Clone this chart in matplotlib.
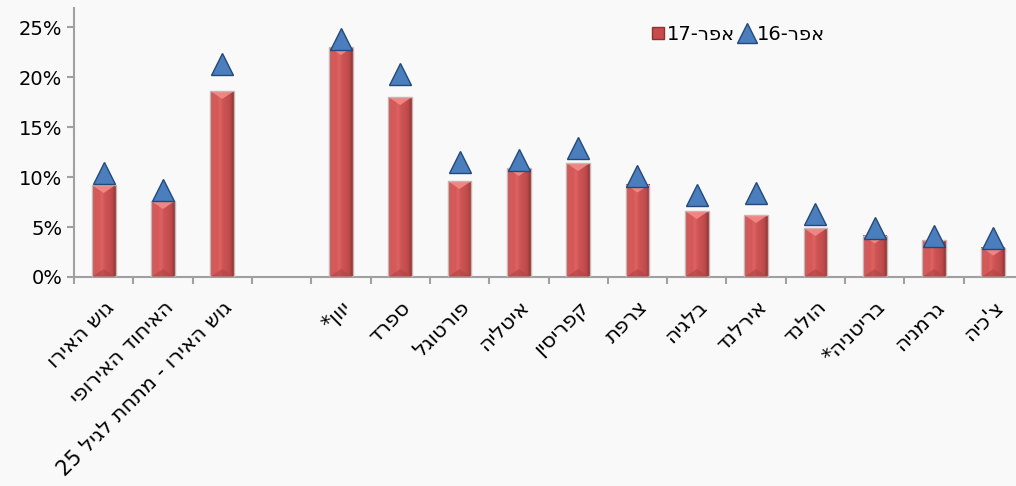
import re
import numpy as np
import matplotlib
matplotlib.use("Agg")
import matplotlib.pyplot as plt
from matplotlib.colors import LinearSegmentedColormap
from matplotlib.lines import Line2D

plt.rcParams['font.family'] = ['DejaVu Sans']

categories = ["גוש האירו", "האיחוד האירופי", "גוש האירו - מתחת לגיל 25", "",
              "יוון*", "ספרד", "פורטוגל", "איטליה", "קפריסין", "צרפת",
              "בלגיה", "אירלנד", "הולנד", "בריטניה*", "גרמניה", "צ'כיה"]
apr17 = [9.2, 7.6, 18.6, np.nan, 23.0, 18.0, 9.6, 10.9, 11.4, 9.25,
         6.6, 6.2, 4.9, 4.15, 3.7, 2.95]
apr16 = [10.4, 8.7, 21.3, np.nan, 23.8, 20.3, 11.5, 11.75, 12.9, 10.1,
         8.25, 8.4, 6.35, 4.95, 4.15, 3.95]
series_names = ["אפר-17", "אפר-16"]
yticks = [0, 5, 10, 15, 20, 25]


def visual(s):
    # matplotlib has no bidi support: flip Hebrew, keep digit runs readable
    r = s[::-1]
    return re.sub(r'\d+', lambda m: m.group(0)[::-1], r)


bg = '#F9F9F9'
fig = plt.figure(figsize=(10.16, 4.86), dpi=100, facecolor=bg)
ax = fig.add_axes([74 / 1016, 209 / 486, 949 / 1016, 269 / 486], facecolor=bg)

x = np.arange(len(categories))
w = 0.4

bar_cmap = LinearSegmentedColormap.from_list('bar', [
    (0.0, '#A84242'), (0.08, '#D35B5B'), (0.3, '#D65858'),
    (0.42, '#DD6464'), (0.55, '#CF5454'), (0.85, '#BE4A4A'), (1.0, '#8A3333')])
grad = np.linspace(0, 1, 64).reshape(1, -1)

for xi, v in zip(x, apr17):
    if np.isnan(v):
        continue
    ax.imshow(grad, cmap=bar_cmap, aspect='auto', zorder=2,
              extent=[xi - w / 2, xi + w / 2, 0, v], interpolation='bilinear')
    # bevels at the top and bottom of each bar
    d = min(0.8, v / 3)
    ax.fill([xi - w / 2, xi + w / 2, xi], [v, v, v - d],
            color='#F48A86', alpha=0.9, lw=0, zorder=3)
    ax.fill([xi - w / 2, xi + w / 2, xi], [0, 0, d],
            color='#B04343', alpha=0.6, lw=0, zorder=3)
    ax.bar(xi, v, width=w, facecolor='none', edgecolor='#C9B5B5',
           linewidth=1, zorder=4)

ax.plot(x, apr16, linestyle='none', marker='^', markersize=16.5,
        markerfacecolor='#4A7EBD', markeredgecolor='#23497A',
        markeredgewidth=1, zorder=5)

ax.set_xlim(-0.5, len(categories) - 0.5)
ax.set_ylim(0, 26.9)

ax.set_yticks(yticks)
ax.set_yticklabels([f"{t}%" for t in yticks], fontsize=14)
ax.set_xticks(np.arange(-0.5, len(categories)), labels=[])
ax.set_xticks(x, labels=[visual(c) for c in categories], minor=True)
ax.tick_params(axis='x', which='minor', length=0, pad=14.5)
ax.tick_params(axis='both', which='major', direction='out', length=5,
               width=1.5, color='#A0A0A0')
for lab in ax.get_xticklabels(minor=True):
    lab.set_rotation(45)
    lab.set_ha('right')
    lab.set_va('top')
    lab.set_rotation_mode('anchor')
    lab.set_fontsize(15)

for side in ['top', 'right']:
    ax.spines[side].set_visible(False)
for side in ['left', 'bottom']:
    ax.spines[side].set_color('#A0A0A0')
    ax.spines[side].set_linewidth(1.5)

handles = [
    Line2D([], [], linestyle='none', marker='s', markersize=9,
           markerfacecolor='#C94A4A', markeredgecolor='#8A3333'),
    Line2D([], [], linestyle='none', marker='^', markersize=15,
           markerfacecolor='#4A7EBD', markeredgecolor='#23497A'),
]
fig.legend(handles, [visual(s) for s in series_names], loc='center left',
           bbox_to_anchor=(640 / 1016, 1 - 34 / 486), ncol=2, frameon=False,
           fontsize=14, handlelength=0.8, handletextpad=0.1,
           columnspacing=0.2, borderpad=0)

fig.savefig('out.png', dpi=100, facecolor=bg)
